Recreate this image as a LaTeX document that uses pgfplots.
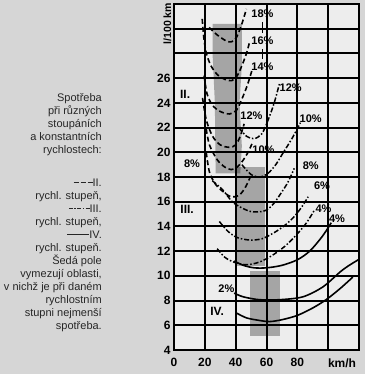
\documentclass[border=0pt]{standalone}
\usepackage{fontspec}
\setmainfont{Liberation Sans}
\usepackage{pgfplots}
\pgfplotsset{compat=1.18}
\tikzset{lab/.style={font=\bfseries\fontsize{11}{11}\selectfont, inner sep=0pt},
         labb/.style={font=\bfseries\fontsize{12}{12}\selectfont, inner sep=0pt}}
\newcommand{\dsh}{\rule[0.6ex]{5pt}{1.1pt}\hspace{2pt}}
\newcommand{\dt}{\rule[0.6ex]{1.3pt}{1.1pt}\hspace{1.5pt}}
\newcommand{\lnII}{\dsh\dsh\rule[0.6ex]{5pt}{1.1pt}}
\newcommand{\lnIII}{\rule[0.6ex]{4pt}{1.1pt}\hspace{1.5pt}\dt\rule[0.6ex]{4pt}{1.1pt}\hspace{1.5pt}\dt\rule[0.6ex]{4pt}{1.1pt}}
\newcommand{\lnIV}{\rule[0.6ex]{22pt}{1.1pt}}
\begin{document}
\begin{tikzpicture}[x=1pt,y=1pt]
\useasboundingbox (0,0) rectangle (365,374);
\fill[black!16] (0,0) rectangle (365,374);
\fill[white!93!black] (174,24) rectangle (359,370);
\node[anchor=north east, align=right, inner sep=0pt, text=black!85,
      font=\fontsize{11}{13}\selectfont] at (102,281) {%
Spotřeba\\ při různých\\ stoupáních\\ a konstantních\\ rychlostech:\\[20pt]
\lnII II.\\ rychl. stupeň,\\ \lnIII III.\\ rychl. stupeň,\\ \lnIV IV.\\ rychl. stupeň.\\
Šedá pole\\ vymezují oblasti,\\ v nichž je při daném\\ rychlostním\\ stupni nejmenší\\ spotřeba.};
\begin{axis}[
 at={(174pt,24pt)}, anchor=south west, scale only axis, width=185pt, height=346pt,
 xmin=0, xmax=120, ymin=4, ymax=32,
 xtick={0,20,40,60,80,100,120}, xticklabels={0,20,40,60,80,,},
 ytick={4,6,8,10,12,14,16,18,20,22,24,26,28,30,32}, yticklabels={4,6,8,10,12,14,16,18,20,22,24,26,,,},
 axis line style={black, line width=2pt},
 major tick length=0pt,
 clip=false,
 ticklabel style={font=\bfseries\fontsize{12}{12}\selectfont},
 xticklabel style={yshift=-5pt},
 IIs/.style={black, line width=1.6pt, dash pattern=on 5pt off 3pt, smooth},
 IIIs/.style={black, line width=1.5pt, dash pattern=on 5pt off 2pt on 1.5pt off 2pt, smooth},
 IVs/.style={black, line width=1.6pt, smooth},
 band/.style={fill=black, fill opacity=0.3, draw=none, forget plot},
 gl/.style={black, line width=2pt, forget plot},
]
% grey bands
\addplot[band] coordinates {(25,30.4) (44,30.4) (44,27) (42.5,24) (44,20.5) (43,18.3) (27,18.3) (26.5,24) (25,28)} -- cycle;
\addplot[band] coordinates {(40,18.8) (59,18.8) (59,10.8) (40,10.8)} -- cycle;
\addplot[band] coordinates {(49,10.4) (68.5,10.4) (68.5,5.1) (49,5.1)} -- cycle;
% grid lines
\addplot[gl] coordinates {(20,4) (20,32)};
\addplot[gl] coordinates {(40,4) (40,32)};
\addplot[gl] coordinates {(60,4) (60,32)};
\addplot[gl] coordinates {(80,4) (80,32)};
\addplot[gl] coordinates {(100,4) (100,32)};
\addplot[gl] coordinates {(0,6) (120,6)};
\addplot[gl] coordinates {(0,8) (120,8)};
\addplot[gl] coordinates {(0,10) (120,10)};
\addplot[gl] coordinates {(0,12) (120,12)};
\addplot[gl] coordinates {(0,14) (120,14)};
\addplot[gl] coordinates {(0,16) (120,16)};
\addplot[gl] coordinates {(0,18) (120,18)};
\addplot[gl] coordinates {(0,20) (120,20)};
\addplot[gl] coordinates {(0,22) (120,22)};
\addplot[gl] coordinates {(0,24) (120,24)};
\addplot[gl] coordinates {(0,26) (120,26)};
\addplot[gl] coordinates {(0,28) (120,28)};
\addplot[gl] coordinates {(0,30) (120,30)};
% gear II
\addplot[IIs] coordinates {(22.8,30.1) (28,29.5) (34,29.0) (37.5,28.95) (40.5,29.3) (43.5,30.2) (47,31.6)};
\addplot[IIs] coordinates {(18.3,30.8) (19.3,29.3) (21,28.0) (24,27.0) (28,26.3) (33,25.9) (37.5,25.8) (41,26.2) (44,27.0) (47,28.0) (49,28.9)};
\addplot[IIs] coordinates {(19.5,26.2) (21.5,24.7) (25,23.8) (30,23.3) (36,23.1) (40.5,23.4) (44,24.3) (47.5,25.4) (50.5,26.6)};
\addplot[IIs] coordinates {(18.5,24.4) (21,22.6) (25,21.3) (30,20.6) (36,20.4) (40,20.6) (43,21.3) (45.5,22.3)};
\addplot[IIs] coordinates {(20.9,21.9) (23,20.6) (28,19.4) (33,18.8) (37.2,18.6) (41,18.8) (44.5,19.3) (48,20.0) (51,20.8)};
\addplot[IIs] coordinates {(20.9,20.0) (23,18.4) (27,17.4) (32,16.8) (37,16.4) (42,16.5) (46,17.1) (49.5,18.0)};
% gear III
\addplot[IIIs] coordinates {(42,22.0) (47,21.3) (52,21.1) (57,21.5) (61,22.6) (65,24.0) (68.5,25.6)};
\addplot[IIIs] coordinates {(44,19.0) (50,18.2) (56,18.0) (61,18.3) (66,19.0) (71,20.0) (76,21.0) (80,21.9) (82,22.4)};
\addplot[IIIs] coordinates {(24.8,17.7) (31.3,17.0) (37.8,16.0) (44,15.5) (50,15.2) (56.8,15.2) (61,15.4) (65,15.9) (70,16.8) (74,17.6) (78,18.7)};
\addplot[IIIs] coordinates {(29.4,14.4) (35,13.6) (41,13.1) (49,12.9) (57,13.0) (65,13.5) (72,14.1) (78,14.8) (83,15.6) (87,16.4)};
\addplot[IIIs] coordinates {(28,12.2) (33,11.5) (39,11.1) (47,10.9) (55,11.1) (63,11.6) (72,12.4) (80,13.4) (86,14.3) (91,15.3)};
% gear IV
\addplot[IVs] coordinates {(39,11.2) (45,10.85) (52,10.65) (60,10.65) (70,10.85) (80,11.3) (88,12.0) (95,13.0) (99,13.7) (102,14.3)};
\addplot[IVs] coordinates {(39,8.6) (45,8.3) (55.4,8.07) (68.5,8.07) (83.5,8.3) (96.5,9.1) (107.6,10.3) (113,10.8) (119.5,11.3)};
\addplot[IVs] coordinates {(40.4,7.0) (47,6.6) (55,6.4) (62,6.3) (70,6.45) (80,6.8) (90,7.4) (99,8.1) (108,9.0) (116,9.9)};
% label leaders
\addplot[black, line width=1.2pt, forget plot] coordinates {(57.4,30.55) (57.4,29.65)};
\addplot[black, line width=1.2pt, forget plot] coordinates {(57.4,28.35) (57.4,27.55)};
% labels
\node[lab] at (axis cs:57.4,31.2) {18\%};
\node[lab] at (axis cs:57.4,29.0) {16\%};
\node[lab] at (axis cs:57.4,26.9) {14\%};
\node[lab] at (axis cs:75.7,25.2) {12\%};
\node[lab] at (axis cs:50.2,23.0) {12\%};
\node[lab] at (axis cs:58,20.2) {10\%};
\node[lab] at (axis cs:88.7,22.7) {10\%};
\node[lab] at (axis cs:11.7,19.1) {8\%};
\node[lab] at (axis cs:88.7,18.9) {8\%};
\node[lab] at (axis cs:96,17.3) {6\%};
\node[lab] at (axis cs:97,15.4) {4\%};
\node[lab] at (axis cs:105.7,14.6) {4\%};
\node[lab] at (axis cs:34,9.0) {2\%};
\node[labb] at (axis cs:7.2,24.7) {II.};
\node[labb] at (axis cs:8.5,15.4) {III.};
\node[labb] at (axis cs:28,7.1) {IV.};
\node[rotate=90, inner sep=0pt, font=\bfseries\fontsize{10.5}{10.5}\selectfont] at (axis cs:-4.2,30.4) {l/100 km};
\node[anchor=north, yshift=-5pt, font=\bfseries\fontsize{12}{12}\selectfont] at (axis cs:109,4) {km/h};
\end{axis}
\end{tikzpicture}
\end{document}
